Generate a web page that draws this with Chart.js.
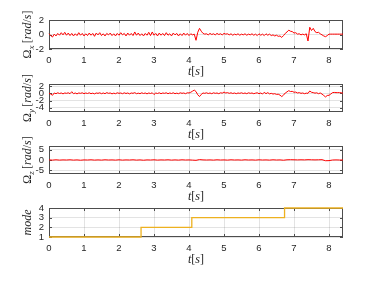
<!DOCTYPE html>
<html>
<head>
<meta charset="utf-8">
<script src="https://cdn.jsdelivr.net/npm/chart.js@4.4.1/dist/chart.umd.min.js"></script>
<style>
  html, body { margin: 0; padding: 0; background: #fff; }
  #wrap { position: relative; width: 379px; height: 285px; overflow: hidden; }
  .panel { position: absolute; left: 0; }
</style>
</head>
<body>
<div id="wrap">
  <div class="panel" id="p1"><canvas id="c1"></canvas></div>
  <div class="panel" id="p2"><canvas id="c2"></canvas></div>
  <div class="panel" id="p3"><canvas id="c3"></canvas></div>
  <div class="panel" id="p4"><canvas id="c4"></canvas></div>
</div>
<script>
// sample step of the gyro logs (s)
const DT = 0.05
const DT_Z = 0.1

const X_TICKS = [0, 1, 2, 3, 4, 5, 6, 7, 8]

// roll rate, rad/s
const OMEGA_X = [
  0.10, -0.15, -0.35, 0.05, -0.20, 0.15, -0.10, 0.25, -0.05, 0.30,
  -0.10, 0.20, -0.15, 0.15, -0.20, 0.10, -0.15, 0.25, -0.10, 0.15,
  -0.20, 0.10, -0.15, 0.20, -0.10, 0.15, -0.25, 0.20, -0.05, 0.25,
  -0.15, 0.10, -0.20, 0.15, -0.05, 0.20, -0.15, 0.10, -0.20, 0.15,
  -0.10, 0.25, -0.05, 0.15, -0.20, 0.20, -0.10, 0.15, -0.15, 0.35,
  -0.10, 0.20, -0.15, 0.10, -0.20, 0.15, -0.10, 0.30, -0.15, 0.35,
  -0.10, 0.15, -0.20, 0.20, -0.10, 0.15, -0.15, 0.25, -0.10, 0.10,
  -0.20, 0.20, -0.05, 0.15, -0.20, 0.10, -0.15, 0.20, -0.10, 0.15,
  -0.15, 0.10, -0.05, 0.05, -0.80, 0.30, 0.85, 0.45, 0.15, 0.05,
  0.10, -0.05, 0.15, 0.00, 0.10, -0.05, 0.15, 0.00, 0.10, -0.05,
  0.15, 0.05, 0.10, -0.05, 0.10, -0.10, 0.05, -0.05, 0.10, -0.10,
  0.05, -0.05, 0.10, -0.10, 0.05, -0.05, 0.10, -0.10, 0.05, -0.15,
  0.10, -0.10, 0.05, -0.15, 0.10, -0.10, 0.05, -0.15, -0.05, -0.20,
  -0.10, -0.25, -0.20, -0.40, -0.15, 0.15, 0.35, 0.60, 0.45, 0.40,
  0.20, 0.25, 0.05, 0.10, -0.05, 0.05, -0.05, 0.10, -0.90, 1.00,
  0.55, 0.85, 0.40, 0.25, 0.30, 0.10, -0.05, -0.20, -0.30, -0.15,
  0.05, 0.05, 0.05, 0.05, 0.05, 0.05, 0.05, 0.05, 0.05
]

// pitch rate, rad/s
const OMEGA_Y = [
  0.00, -0.20, -0.55, 0.10, -0.10, 0.15, -0.05, 0.10, -0.15, 0.10,
  0.00, 0.15, -0.10, 0.45, -0.10, 0.10, -0.15, 0.10, 0.00, 0.15,
  -0.10, 0.10, -0.05, 0.15, -0.10, 0.05, -0.15, 0.10, 0.00, 0.15,
  -0.10, 0.10, -0.10, 0.20, 0.00, 0.10, -0.15, 0.05, -0.10, 0.15,
  0.00, 0.10, -0.10, 0.15, -0.05, 0.10, -0.15, 0.10, 0.00, 0.20,
  -0.10, 0.05, -0.10, 0.15, -0.05, 0.10, -0.15, 0.10, -0.05, 0.15,
  -0.35, 0.10, -0.05, 0.15, -0.10, 0.10, 0.00, 0.15, -0.10, 0.10,
  -0.05, 0.15, -0.10, 0.05, -0.10, 0.15, 0.00, 0.10, -0.10, 0.15,
  0.10, 0.30, 0.60, 0.90, 0.50, -0.40, -0.90, -0.30, 0.10, 0.00,
  0.15, -0.05, 0.10, -0.10, 0.15, 0.00, 0.10, -0.10, 0.15, 0.05,
  0.35, 0.10, 0.20, 0.00, 0.15, -0.05, 0.10, -0.10, 0.10, 0.00,
  0.15, -0.05, 0.10, -0.10, 0.15, 0.00, 0.10, -0.10, 0.05, 0.15,
  -0.10, 0.10, -0.20, 0.30, -0.10, 0.20, -0.15, 0.00, -0.20, -0.10,
  -0.30, -0.25, -0.50, -0.90, -0.50, 0.10, 0.40, 0.75, 0.50, 0.55,
  0.30, 0.35, 0.10, 0.20, 0.00, 0.10, -0.10, 0.05, 0.00, 0.65,
  0.30, 0.20, 0.05, 0.15, -0.10, 0.10, -0.20, -0.60, -1.00, -0.60,
  -0.55, -0.20, 0.20, 0.25, 0.20, 0.20, 0.20, 0.15, 0.05
]

// yaw rate, rad/s (every 0.1 s)
const OMEGA_Z = [
  0.05, -0.05, 0.10, -0.05, 0.05, 0.00, 0.10, -0.05, 0.05, -0.10,
  0.05, 0.00, 0.10, -0.05, 0.05, -0.05, 0.10, 0.00, 0.05, -0.05,
  0.10, -0.05, 0.05, 0.00, 0.10, -0.05, 0.05, -0.10, 0.05, 0.00,
  0.10, -0.05, 0.05, 0.00, 0.10, -0.05, 0.05, -0.05, 0.10, 0.00,
  0.05, -0.05, -0.15, 0.20, 0.05, 0.00, 0.05, -0.05, 0.10, 0.00,
  0.05, -0.05, 0.10, 0.00, 0.05, -0.05, 0.10, 0.00, 0.05, -0.05,
  0.10, 0.00, 0.05, -0.05, 0.10, 0.00, 0.05, -0.10, 0.10, 0.15,
  0.10, 0.05, 0.10, 0.05, 0.15, 0.10, 0.05, 0.10, 0.15, -0.35,
  -0.30, 0.00, 0.05, 0.00, 0.00
]

// flight mode switches
const MODE_TIMES = [0, 2.63, 4.08, 6.73, 8.4]
const MODE_VALUES = [1, 2, 3, 4, 4]

const RED = '#ff0000'
const ORANGE = '#edb120'
const TEXT = '#262626'
const BOX = '#4d4d4d'
const GRID = 'rgba(38,38,38,0.13)'
const SERIF = '"Liberation Serif", "DejaVu Serif", serif'

const PAD_TOP = 20
const BELOW = 32
const PLOT_W = 294

Chart.defaults.font.family = '"Liberation Sans", Arial, sans-serif'
Chart.defaults.font.size = 9.5
Chart.defaults.color = TEXT

const series = (values, step) => values.map((v, i) => ({ x: +(i * step).toFixed(2), y: v }))

// yTitle pieces: [text, italic?, subscript?]
const up = (t) => [t, false, false]
const it = (t) => [t, true, false]
const sub = (t) => [t, true, true]

const drawParts = (ctx, parts, cx, cy) => {
  const fontOf = (p) => `${p[1] ? 'italic ' : ''}${p[2] ? 9 : 12}px ${SERIF}`
  let w = 0
  parts.forEach(p => { ctx.font = fontOf(p); w += ctx.measureText(p[0]).width })
  let x = cx - w / 2
  ctx.textAlign = 'left'
  ctx.textBaseline = 'alphabetic'
  parts.forEach(p => {
    ctx.font = fontOf(p)
    ctx.fillText(p[0], x, cy + 4 + (p[2] ? 2.5 : 0))
    x += ctx.measureText(p[0]).width
  })
}

const frame = {
  id: 'frame',
  beforeDatasetsDraw(chart, args, opts) {
    const { ctx, chartArea: a, scales } = chart
    ctx.save()
    ctx.strokeStyle = BOX
    ctx.lineWidth = 1
    ctx.strokeRect(a.left + 0.5, a.top + 0.5, a.right - a.left - 1, a.bottom - a.top - 1)
    ctx.beginPath()
    X_TICKS.forEach(v => {
      const x = Math.round(scales.x.getPixelForValue(v)) + 0.5
      ctx.moveTo(x, a.bottom); ctx.lineTo(x, a.bottom - 3)
      ctx.moveTo(x, a.top); ctx.lineTo(x, a.top + 3)
    })
    opts.yTicks.forEach(v => {
      const y = Math.round(scales.y.getPixelForValue(v)) + 0.5
      ctx.moveTo(a.left, y); ctx.lineTo(a.left + 3, y)
      ctx.moveTo(a.right, y); ctx.lineTo(a.right - 3, y)
    })
    ctx.stroke()
    ctx.restore()
  },
  afterDraw(chart, args, opts) {
    const { ctx, chartArea: a } = chart
    ctx.save()
    ctx.fillStyle = TEXT
    drawParts(ctx, [it('t'), up('['), it('s'), up(']')], (a.left + a.right) / 2, a.bottom + 22)
    ctx.translate(27, (a.top + a.bottom) / 2)
    ctx.rotate(-Math.PI / 2)
    drawParts(ctx, opts.yTitle, 0, 0)
    ctx.restore()
  }
}

const makePanel = (n, cfg) => {
  const box = document.getElementById('p' + n)
  const canvas = document.getElementById('c' + n)
  const h = PAD_TOP + cfg.plotH + BELOW
  box.style.top = (cfg.plotTop - PAD_TOP) + 'px'
  canvas.width = 379
  canvas.height = h
  canvas.style.width = '379px'
  canvas.style.height = h + 'px'

  return new Chart(canvas.getContext('2d'), {
    type: 'line',
    data: {
      datasets: [{
        data: cfg.data,
        borderColor: cfg.color,
        borderWidth: cfg.width,
        pointRadius: 0,
        tension: 0,
        stepped: cfg.stepped || false,
        clip: 3,
      }],
    },
    options: {
      responsive: false,
      animation: false,
      events: [],
      layout: { padding: { top: PAD_TOP, left: 0, right: 379 - 49 - PLOT_W, bottom: 0 } },
      plugins: {
        legend: { display: false },
        tooltip: { enabled: false },
        frame: { yTitle: cfg.yTitle, yTicks: cfg.yTicks },
      },
      scales: {
        x: {
          type: 'linear',
          min: 0,
          max: 8.4,
          afterBuildTicks: (s) => { s.ticks = X_TICKS.map(v => ({ value: v })) },
          afterFit: (s) => { s.height = BELOW },
          ticks: { padding: 6, maxRotation: 0, autoSkip: false },
          grid: { color: GRID, drawTicks: false, lineWidth: 1 },
          border: { display: false },
        },
        y: {
          min: cfg.min,
          max: cfg.max,
          afterBuildTicks: (s) => { s.ticks = cfg.yTicks.map(v => ({ value: v })) },
          afterFit: (s) => { s.width = 49 },
          ticks: { padding: 5, autoSkip: false },
          grid: { color: GRID, drawTicks: false, lineWidth: 1 },
          border: { display: false },
        },
      },
    },
    plugins: [frame],
  })
}

makePanel(1, {
  plotTop: 20, plotH: 29, min: -2, max: 2, yTicks: [-2, 0, 2],
  data: series(OMEGA_X, DT), color: RED, width: 1,
  yTitle: [up('Ω'), sub('x'), up('\u2009['), it('rad'), up('/'), it('s'), up(']')],
})
makePanel(2, {
  plotTop: 84, plotH: 28, min: -5.2, max: 2.6, yTicks: [-4, -2, 0, 2],
  data: series(OMEGA_Y, DT), color: RED, width: 1,
  yTitle: [up('Ω'), sub('y'), up('\u2009['), it('rad'), up('/'), it('s'), up(']')],
})
makePanel(3, {
  plotTop: 146, plotH: 28, min: -6.7, max: 6.7, yTicks: [-5, 0, 5],
  data: series(OMEGA_Z, DT_Z), color: RED, width: 1,
  yTitle: [up('Ω'), sub('z'), up('\u2009['), it('rad'), up('/'), it('s'), up(']')],
})
makePanel(4, {
  plotTop: 208, plotH: 29, min: 1, max: 4, yTicks: [1, 2, 3, 4],
  data: MODE_TIMES.map((t, i) => ({ x: t, y: MODE_VALUES[i] })), color: ORANGE, width: 1.3, stepped: 'before',
  yTitle: [it('mode')],
})
</script>
</body>
</html>
